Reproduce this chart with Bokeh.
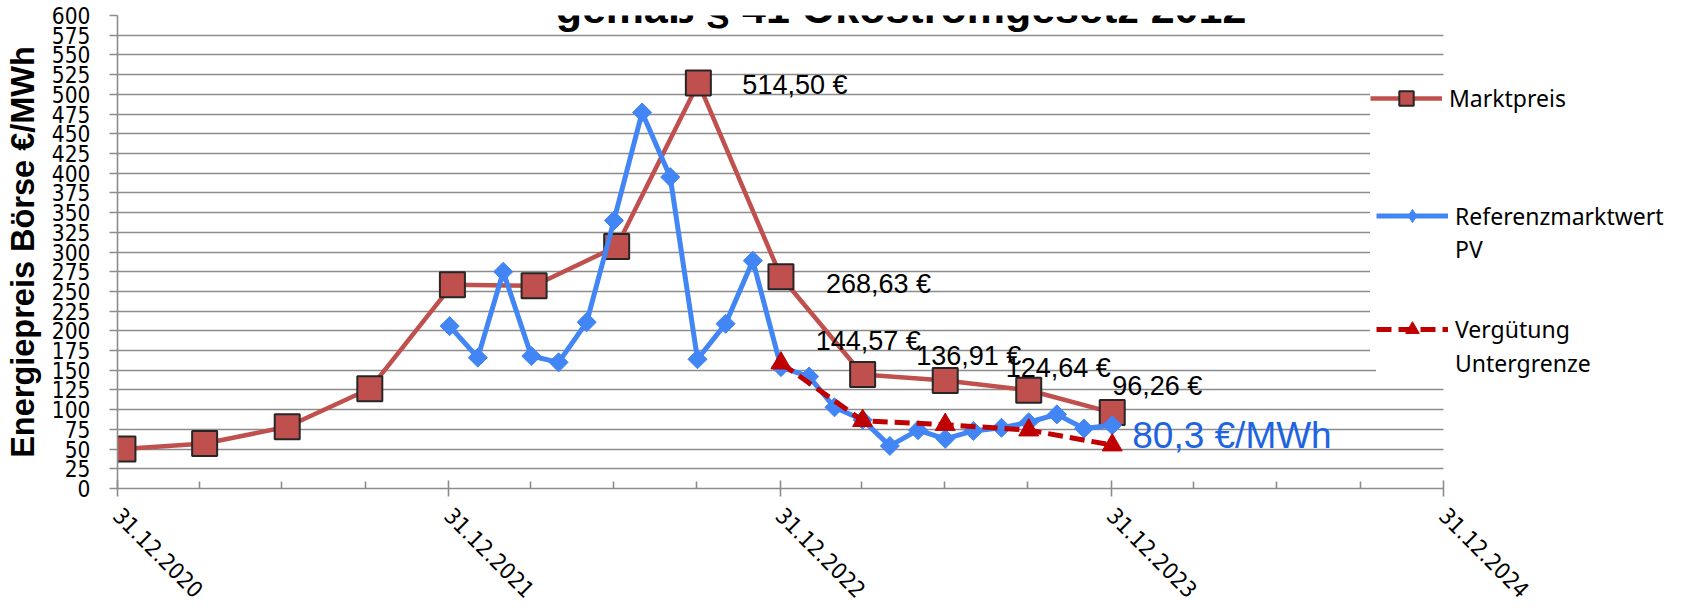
import math
import pandas as pd
from bokeh.plotting import figure
from bokeh.models import (ColumnDataSource, Range1d, FixedTicker, DatetimeTickFormatter,
                          Legend, LegendItem, LabelSet, Label)
from bokeh.core.properties import value
from bokeh.embed import file_html
from bokeh.resources import INLINE

# ---------------- data ----------------
markt_dates = ["2021-01-06", "2021-04-06", "2021-07-06", "2021-10-05",
               "2022-01-04", "2022-04-04", "2022-07-04", "2022-10-02",
               "2023-01-01", "2023-04-01", "2023-07-01", "2023-10-01", "2024-01-01"]
markt_values = [50.0, 57.1, 78.3, 126.5, 258.5, 257.2, 307.1, 514.50,
                268.63, 144.57, 136.91, 124.64, 96.26]

ref_dates = ["2022-01-01", "2022-02-01", "2022-03-01", "2022-04-01", "2022-05-01",
             "2022-06-01", "2022-07-01", "2022-08-01", "2022-09-01", "2022-10-01",
             "2022-11-01", "2022-12-01", "2023-01-01", "2023-02-01", "2023-03-01",
             "2023-04-01", "2023-05-01", "2023-06-01", "2023-07-01", "2023-08-01",
             "2023-09-01", "2023-10-01", "2023-11-01", "2023-12-01", "2024-01-01"]
ref_values = [206, 166, 275, 168, 160, 211, 340, 477, 395, 164, 209, 289,
              154, 142, 103, 87, 54, 74, 63, 73, 77, 84, 94, 76, 80.3]

verg_dates = ["2023-01-01", "2023-04-01", "2023-07-01", "2023-10-01", "2024-01-01"]
verg_values = [159, 86, 81, 74, 55]

x_tick_dates = ["2020-12-31", "2021-12-31", "2022-12-31", "2023-12-31", "2024-12-31"]
y_ticks = list(range(0, 601, 25))

series_names = ["Marktpreis", "Referenzmarktwert", "PV", "Vergütung", "Untergrenze"]
title_text = "gemäß § 41 Ökostromgesetz 2012"
y_title = "Energiepreis Börse €/MWh"

# labelled Marktpreis points (indices) and their screen offsets
label_idx = [7, 8, 9, 10, 11, 12]
label_dx = [44, 45, -47, -29, -23, 0]
label_dy = [-2, -7, 34, 25, 22, 27]


def ms(d):
    return pd.Timestamp(d).timestamp() * 1000.0


# ---------------- layout ----------------
W, H = 1684, 608
B_LEFT, B_TOP, B_BOTTOM, B_RIGHT = 117, 15, 120, 4
AXIS_PX = 1326  # pixel length of the dated axis (31.12.2020 .. 31.12.2024)
frame_w = W - B_LEFT - B_RIGHT
frame_h = H - B_TOP - B_BOTTOM

major_ms = [ms(d) for d in x_tick_dates]
minor_ms = []
for yr in range(2021, 2025):
    for md in ["03-31", "06-30", "09-30"]:
        minor_ms.append(ms(f"{yr}-{md}"))
x_start, x_axis_end = major_ms[0], major_ms[-1]
x_end = x_start + (x_axis_end - x_start) * frame_w / AXIS_PX

src_m = ColumnDataSource(dict(x=pd.to_datetime(markt_dates), y=markt_values))
src_r = ColumnDataSource(dict(x=pd.to_datetime(ref_dates), y=ref_values))
src_v = ColumnDataSource(dict(x=pd.to_datetime(verg_dates), y=verg_values))

p = figure(width=W, height=H, x_axis_type="datetime", output_backend="svg",
           toolbar_location=None,
           x_range=Range1d(x_start, x_end), y_range=Range1d(0, 600),
           min_border_left=B_LEFT, min_border_right=B_RIGHT,
           min_border_top=B_TOP, min_border_bottom=B_BOTTOM)
p.background_fill_color = "white"
p.border_fill_color = "white"
p.outline_line_color = None

GRAY = "#8c8c8c"
p.xgrid.visible = False
p.ygrid.grid_line_color = GRAY
p.ygrid.grid_line_width = 1.6
p.ygrid.cross_bounds = (x_start, x_axis_end)

# y axis
p.yaxis.ticker = FixedTicker(ticks=y_ticks)
p.yaxis.axis_line_color = GRAY
p.yaxis.axis_line_width = 1.6
p.yaxis.major_tick_line_color = GRAY
p.yaxis.major_tick_line_width = 1.6
p.yaxis.major_tick_out = 8
p.yaxis.major_tick_in = 0
p.yaxis.minor_tick_line_color = None
p.yaxis.major_label_text_font = "DejaVu Sans Condensed"
p.yaxis.major_label_text_font_size = "22.5px"
p.yaxis.major_label_text_color = "black"
p.yaxis.major_label_standoff = 19
p.yaxis.axis_label = y_title
p.yaxis.axis_label_text_font = "Liberation Sans"
p.yaxis.axis_label_text_font_style = "bold"
p.yaxis.axis_label_text_font_size = "32.5px"
p.yaxis.axis_label_text_color = "black"
p.yaxis.axis_label_standoff = 8

# x axis
p.xaxis.bounds = (x_start, x_axis_end)
p.xaxis.ticker = FixedTicker(ticks=major_ms, minor_ticks=minor_ms)
fmt = "%d.%m.%Y"
p.xaxis.formatter = DatetimeTickFormatter(years=fmt, months=fmt, days=fmt, hours=fmt,
                                          hourmin=fmt, minutes=fmt, minsec=fmt,
                                          seconds=fmt, milliseconds=fmt, microseconds=fmt)
p.xaxis.major_label_orientation = -math.pi / 4
p.xaxis.axis_line_color = GRAY
p.xaxis.axis_line_width = 1.6
p.xaxis.major_tick_line_color = GRAY
p.xaxis.major_tick_line_width = 1.6
p.xaxis.major_tick_in = 8
p.xaxis.major_tick_out = 8
p.xaxis.minor_tick_line_color = GRAY
p.xaxis.minor_tick_line_width = 1.6
p.xaxis.minor_tick_in = 7
p.xaxis.minor_tick_out = 0
p.xaxis.major_label_text_font = "DejaVu Sans Condensed"
p.xaxis.major_label_text_font_size = "22.5px"
p.xaxis.major_label_text_color = "black"
p.xaxis.major_label_standoff = 15

# series
RED = "#C0504D"
BLUE = "#4285F4"
DRED = "#C00000"
r_m_line = p.line("x", "y", source=src_m, line_color=RED, line_width=4.5)
r_m_pts = p.scatter("x", "y", source=src_m, marker="square", size=25,
                    fill_color=RED, line_color="#262626", line_width=2)
r_r_line = p.line("x", "y", source=src_r, line_color=BLUE, line_width=5)
r_r_pts = p.scatter("x", "y", source=src_r, marker="square", size=13.5, angle=math.pi / 4,
                    fill_color=BLUE, line_color=BLUE, line_width=1)
r_v_line = p.line("x", "y", source=src_v, line_color=DRED, line_width=5, line_dash="15 7")
r_v_pts = p.scatter("x", "y", source=src_v, marker="triangle", size=20,
                    fill_color=DRED, line_color=DRED, line_width=1)
# legend-only helpers (nothing visible in the plot)
blank = p.line(x=[], y=[], line_alpha=0)
leg_diamond = p.scatter(x=[pd.Timestamp(ref_dates[0])], y=[float("nan")], marker="diamond",
                        size=20, fill_color=BLUE, line_color=BLUE, line_width=1)

# data labels
lab_x = [pd.Timestamp(markt_dates[i]) for i in label_idx]
lab_y = [markt_values[i] for i in label_idx]
lab_t = [f"{markt_values[i]:.2f}".replace(".", ",") + " €" for i in label_idx]
src_lab = ColumnDataSource(dict(x=lab_x, y=lab_y, text=lab_t, dx=label_dx, dy=label_dy))
p.add_layout(LabelSet(x="x", y="y", text="text", x_offset="dx", y_offset="dy",
                      source=src_lab, text_font=value("Liberation Sans"),
                      text_font_size=value("27px"), text_color="black",
                      text_align="left", text_baseline="middle"))

last_ref = ref_values[-1]
p.add_layout(Label(x=pd.Timestamp(ref_dates[-1]), y=last_ref, x_offset=20, y_offset=-10,
                   text=f"{last_ref:.1f}".replace(".", ",") + " €/MWh",
                   text_font="Liberation Sans", text_font_size="37px", text_color="#1E64E1",
                   text_align="left", text_baseline="middle"))

# title (cut off at the top like the reference)
p.add_layout(Label(x=785, y=frame_h + 7, x_units="screen", y_units="screen", text=title_text,
                   text_font="Liberation Sans", text_font_style="bold", text_font_size="43px",
                   text_color="black", text_align="center", text_baseline="alphabetic",
                   background_fill_color="white",
                   padding=dict(left=152, right=155, top=0, bottom=2)))


# legends
def make_legend(items, loc, row_h, pad):
    lg = Legend(items=items, location=loc)
    lg.glyph_width = 72
    lg.glyph_height = row_h
    lg.label_height = row_h
    lg.label_standoff = 7
    lg.spacing = 0
    lg.padding = pad
    lg.margin = 0
    lg.border_line_color = None
    lg.background_fill_color = "white"
    lg.background_fill_alpha = 1
    lg.label_text_font = "Noto Sans"
    lg.label_text_font_size = "23px"
    lg.label_text_color = "black"
    return lg


leg_a = make_legend([LegendItem(label=series_names[0], renderers=[r_m_line, r_m_pts])] +
                    [LegendItem(label=" ", renderers=[blank]) for _ in range(7)],
                    (1253, 120), 36, 8)
leg_b = make_legend([LegendItem(label=series_names[1], renderers=[r_r_line, leg_diamond]),
                     LegendItem(label=series_names[2], renderers=[blank])],
                    (1259, 223), 33, 2)
leg_c = make_legend([LegendItem(label=series_names[3], renderers=[r_v_line, r_v_pts]),
                     LegendItem(label=series_names[4], renderers=[blank])],
                    (1259, 108), 34, 2)
p.add_layout(leg_a)
p.add_layout(leg_b)
p.add_layout(leg_c)

open("out.html", "w").write(file_html(p, INLINE))
